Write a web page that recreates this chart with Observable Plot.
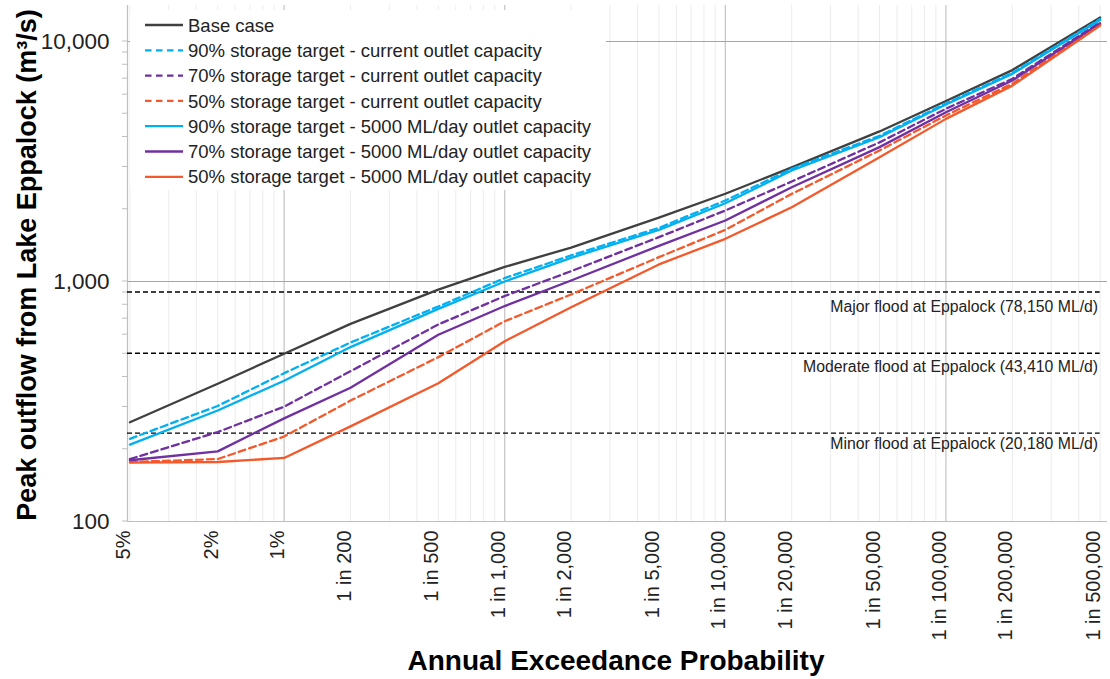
<!DOCTYPE html>
<html>
<head>
<meta charset="utf-8">
<script src="https://cdn.jsdelivr.net/npm/d3@7"></script>
<script src="https://cdn.jsdelivr.net/npm/@observablehq/plot@0.6"></script>
<style>
  html, body { margin: 0; padding: 0; background: #fff; }
  #chart { width: 1110px; height: 679px; }
</style>
</head>
<body>
<div id="chart"></div>
<script>
// ---------- data ----------
const aep = [20, 50, 100, 200, 500, 1000, 2000, 5000, 10000, 20000, 50000, 100000, 200000, 500000];
const aepLabels = ["5%", "2%", "1%", "1 in 200", "1 in 500", "1 in 1,000", "1 in 2,000", "1 in 5,000",
  "1 in 10,000", "1 in 20,000", "1 in 50,000", "1 in 100,000", "1 in 200,000", "1 in 500,000"];

const seriesNames = [
  "Base case",
  "90% storage target - current outlet capacity",
  "70% storage target - current outlet capacity",
  "50% storage target - current outlet capacity",
  "90% storage target - 5000 ML/day outlet capacity",
  "70% storage target - 5000 ML/day outlet capacity",
  "50% storage target - 5000 ML/day outlet capacity"
];
const baseCase = [259, 375, 500, 666, 925, 1150, 1385, 1845, 2320, 2990, 4220, 5650, 7600, 12600];
const cur90 = [221, 303, 415, 557, 787, 1033, 1284, 1673, 2175, 2948, 4050, 5520, 7400, 12400];
const cur70 = [182, 236, 301, 423, 662, 870, 1104, 1530, 1976, 2610, 3800, 5245, 6990, 12030];
const cur50 = [177, 182, 226, 319, 484, 683, 883, 1263, 1641, 2318, 3516, 4920, 6670, 11770];
const new90 = [209, 290, 386, 533, 769, 1000, 1255, 1641, 2118, 2900, 3990, 5463, 7330, 12300];
const new70 = [180, 196, 269, 361, 600, 790, 1010, 1408, 1795, 2471, 3630, 5070, 6880, 11910];
const new50 = [176, 177, 184, 249, 377, 564, 781, 1178, 1506, 2040, 3297, 4760, 6550, 11660];
const seriesValues = [baseCase, cur90, cur70, cur50, new90, new70, new50];

const floodNames = ["Major", "Moderate", "Minor"];
const floodMLd = [78150, 43410, 20180];

const yTicks = [100, 1000, 10000];

// ---------- styles ----------
const colors = ["#404040", "#00b0f0", "#7030a0", "#f4592b", "#00b0f0", "#7030a0", "#f4592b"];
const dashes = [null, "7,4", "7,4", "7,4", null, null, null];
const FONT = "'Liberation Sans', Arial, sans-serif";

// ---------- derived tables ----------
const rows = [];
seriesValues.forEach((vals, s) => vals.forEach((v, i) => rows.push({s, name: seriesNames[s], x: aep[i], y: v})));
const xTickRows = aep.map((d, i) => ({x: d, label: aepLabels[i]}));
const flood = floodMLd.map((q, i) => ({
  name: floodNames[i],
  m3s: q * 1000 / 86400,
  label: `${floodNames[i]} flood at Eppalock (${d3.format(",")(q)} ML/d)`
}));

const minorX = [];
for (let k = 1; k <= 5; k++) for (let m = 2; m <= 9; m++) { const v = m * 10 ** k; if (v >= 20 && v <= 540000) minorX.push(v); }
const majorX = [100, 1000, 10000, 100000];
const minorY = [];
for (let k = 2; k <= 4; k++) for (let m = 2; m <= 9; m++) { const v = m * 10 ** k; if (v <= 14000) minorY.push(v); }

const X0 = 19.5, X1 = 540000;

const marks = [
  Plot.ruleX(minorX, {stroke: "#ececec", strokeWidth: 1}),
  Plot.ruleX(majorX, {stroke: "#c4c4c4", strokeWidth: 1.2}),
  Plot.ruleY([1000, 10000], {stroke: "#a6a6a6", strokeWidth: 1.2}),
  Plot.ruleX([X0], {stroke: "#bfbfbf", strokeWidth: 1.2}),
  Plot.ruleY([100], {stroke: "#bfbfbf", strokeWidth: 1.2}),
  Plot.ruleY(flood, {y: "m3s", x1: X0, x2: 500000, stroke: "#000", strokeWidth: 1.4, strokeDasharray: "5,3"}),
  ...flood.map((f, i) => Plot.text([f], {
    x: () => 500000, y: "m3s", text: "label", textAnchor: "end",
    dx: -2, dy: [15, 14, 11][i], fontSize: 15.8, fill: "#222"
  })),
  ...seriesValues.map((vals, s) => Plot.line(rows.filter(r => r.s === s), {
    x: "x", y: "y", stroke: colors[s], strokeWidth: 2.3,
    strokeDasharray: dashes[s] || undefined, curve: "linear"
  })),
  Plot.text(yTicks, {y: d => d, frameAnchor: "left", text: d => d3.format(",")(d), textAnchor: "end", dx: -18, fontSize: 22.5, fill: "#222"}),
  Plot.text(xTickRows, {x: "x", frameAnchor: "bottom", text: "label", rotate: -90, textAnchor: "end", dy: 9, fontSize: 20, fill: "#222"})
];

const svg = Plot.plot({
  width: 1110,
  height: 679,
  marginLeft: 127,
  marginRight: 3,
  marginTop: 5,
  marginBottom: 158,
  style: {fontFamily: FONT, fontSize: "16px", background: "#fff", color: "#222", overflow: "visible"},
  x: {type: "log", domain: [X0, X1], axis: null},
  y: {type: "log", domain: [100, 14125], axis: null},
  marks
});
document.getElementById("chart").appendChild(svg);

// ---------- axis titles & legend ----------
const root = d3.select(svg);
const yScale = svg.scale("y");
root.append("g").selectAll("line").data(minorY.concat(yTicks)).join("line")
  .attr("x1", 122).attr("x2", 127)
  .attr("y1", d => yScale.apply(d)).attr("y2", d => yScale.apply(d))
  .attr("stroke", "#bfbfbf").attr("stroke-width", 1);

root.append("text")
  .attr("transform", "translate(36,265) rotate(-90)")
  .attr("text-anchor", "middle")
  .style("font", `bold 27px ${FONT}`).attr("fill", "#000")
  .text("Peak outflow from Lake Eppalock (m³/s)");
root.append("text")
  .attr("x", 616).attr("y", 670)
  .attr("text-anchor", "middle")
  .style("font", `bold 28px ${FONT}`).attr("fill", "#000")
  .text("Annual Exceedance Probability");

const lg = root.append("g");
lg.append("rect").attr("x", 130).attr("y", 10).attr("width", 476).attr("height", 180).attr("fill", "#fff");
seriesNames.forEach((name, i) => {
  const cy = 25 + i * 25.3;
  lg.append("line").attr("x1", 145).attr("x2", 183).attr("y1", cy).attr("y2", cy)
    .attr("stroke", colors[i]).attr("stroke-width", 2.3)
    .attr("stroke-dasharray", dashes[i] ? "6.5,4.5" : null);
  lg.append("text").attr("x", 188).attr("y", cy).attr("dy", "0.36em")
    .attr("text-anchor", "start")
    .style("font", `18.5px ${FONT}`).attr("fill", "#222").text(name);
});
</script>
</body>
</html>
